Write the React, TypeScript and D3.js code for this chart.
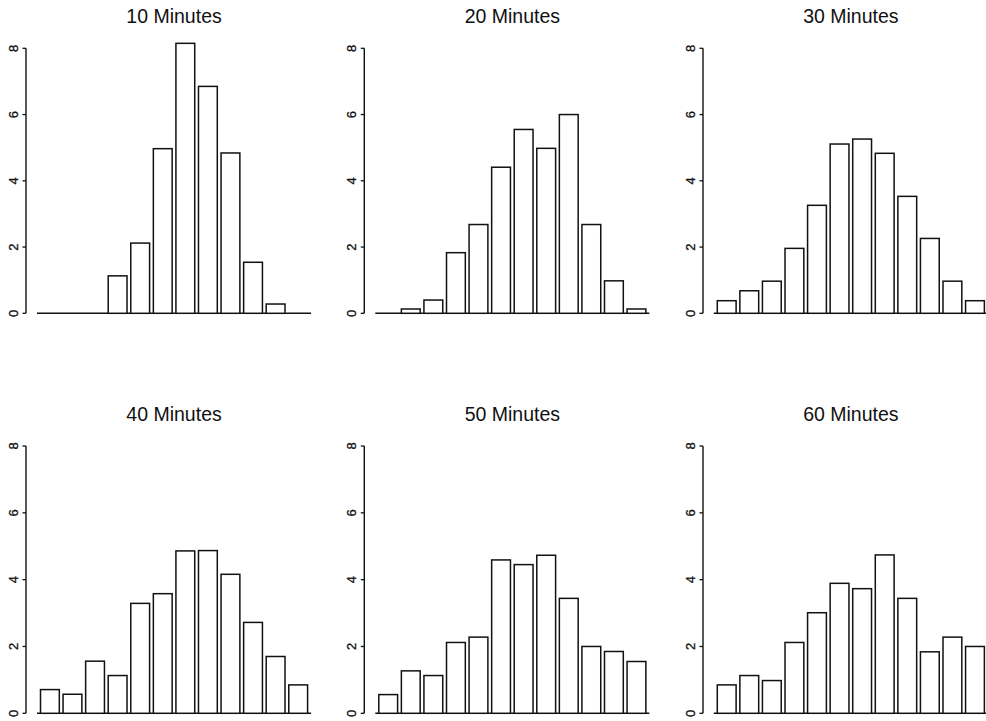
import React from "react";
import * as d3 from "d3";

const titles = ["10 Minutes", "20 Minutes", "30 Minutes", "40 Minutes", "50 Minutes", "60 Minutes"];
const bins = ["b1", "b2", "b3", "b4", "b5", "b6", "b7", "b8", "b9", "b10", "b11", "b12"];
const min10 = [0, 0, 0, 1.13, 2.12, 4.97, 8.15, 6.85, 4.84, 1.54, 0.28, 0];
const min20 = [0, 0.13, 0.4, 1.83, 2.68, 4.41, 5.55, 4.98, 6.0, 2.68, 0.98, 0.13];
const min30 = [0.38, 0.68, 0.97, 1.96, 3.26, 5.11, 5.26, 4.83, 3.53, 2.26, 0.97, 0.38];
const min40 = [0.71, 0.57, 1.56, 1.13, 3.29, 3.58, 4.86, 4.87, 4.16, 2.72, 1.7, 0.85];
const min50 = [0.56, 1.27, 1.13, 2.12, 2.28, 4.59, 4.45, 4.73, 3.44, 2.0, 1.85, 1.55];
const min60 = [0.85, 1.13, 0.98, 2.12, 3.01, 3.89, 3.73, 4.74, 3.44, 1.84, 2.28, 2.0];
const series = [min10, min20, min30, min40, min50, min60];
const yTicks = [0, 2, 4, 6, 8];

const W = 986;
const H = 721;
const axisX = [26, 364.3, 703];
const barStart = [40.5, 378.8, 717.3];
const rowY0 = [313.3, 713.3];
const rowY8 = [48.3, 446];
const titleY = [23.3, 421];
const step = 22.57;
const ink = "#111";
const font = "'Liberation Sans', Arial, Helvetica, sans-serif";

function Panel({ idx }: { idx: number }) {
  const col = idx % 3;
  const row = Math.floor(idx / 3);
  const values = series[idx];
  const x = d3
    .scaleBand<string>()
    .domain(bins)
    .range([barStart[col], barStart[col] + step * (bins.length - 1 / 6)])
    .paddingInner(1 / 6)
    .paddingOuter(0);
  const y = d3.scaleLinear().domain([0, 8]).range([rowY0[row], rowY8[row]]);
  const bx0 = x(bins[0])!;
  const bx1 = x(bins[bins.length - 1])! + x.bandwidth();
  const cx = (bx0 + bx1) / 2;
  const ax = axisX[col];
  return (
    <g>
      <text
        x={cx}
        y={titleY[row]}
        textAnchor="middle"
        fontFamily={font}
        fontSize={19.5}
        fill={ink}
      >
        {titles[idx]}
      </text>
      <line x1={ax} x2={ax} y1={y(0)} y2={y(8)} stroke={ink} strokeWidth={1.4} />
      {yTicks.map((t) => (
        <g key={t}>
          <line x1={ax - 3.5} x2={ax} y1={y(t)} y2={y(t)} stroke={ink} strokeWidth={1.3} />
          <text
            transform={`translate(${ax - 8.5},${y(t)}) rotate(-90)`}
            textAnchor="middle"
            fontFamily={font}
            fontSize={13}
            fill={ink}
            stroke={ink}
            strokeWidth={0.3}
          >
            {t}
          </text>
        </g>
      ))}
      <line
        x1={bx0 - 3.5}
        x2={Math.min(bx1 + 3.5, W)}
        y1={y(0)}
        y2={y(0)}
        stroke={ink}
        strokeWidth={1.5}
      />
      {values.map((v, i) =>
        v > 0 ? (
          <rect
            key={i}
            x={x(bins[i])}
            y={y(v)}
            width={x.bandwidth()}
            height={y(0) - y(v)}
            fill="white"
            stroke={ink}
            strokeWidth={1.5}
          />
        ) : null
      )}
    </g>
  );
}

export default function App() {
  return (
    <svg
      width={W}
      height={H}
      viewBox={`0 0 ${W} ${H}`}
      style={{ position: "absolute", left: 0, top: 0, background: "white" }}
    >
      <rect x={0} y={0} width={W} height={H} fill="white" />
      {titles.map((_, i) => (
        <Panel key={i} idx={i} />
      ))}
    </svg>
  );
}
